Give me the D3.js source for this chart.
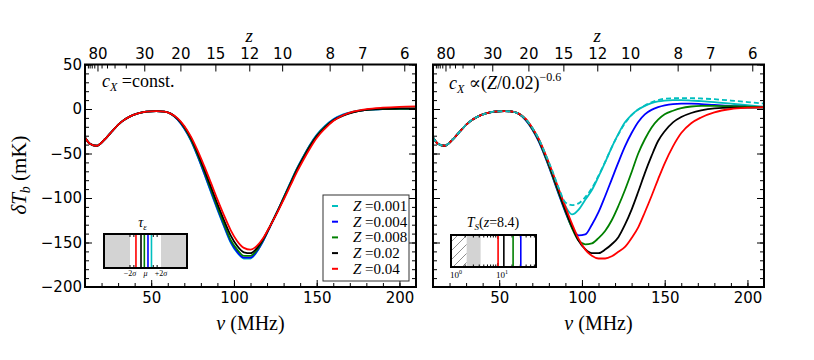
<!DOCTYPE html>
<html>
<head>
<meta charset="utf-8">
<script src="https://cdn.jsdelivr.net/npm/d3@7"></script>
<style>
body { margin: 0; background: #fff; }
.tick text { font-family: "DejaVu Sans", sans-serif; font-size: 15px; fill: #000; }
.tick line { stroke: #000; stroke-width: 1; }
.serif { font-family: "Liberation Serif", "DejaVu Serif", serif; fill: #000; }
</style>
</head>
<body>
<div id="chart"></div>
<script>
// frequency grid (MHz) and brightness temperature values (mK)
var nu = [10, 13, 17, 22, 27, 32, 37, 42, 47, 53, 58, 62,
	66, 70, 74, 78, 82, 86, 90, 94, 98, 102, 106, 110, 114, 118, 122, 126, 130,
	134, 138, 142, 146, 150, 155, 160, 166, 172, 180, 190, 200, 210];

// part shared by every curve (nu <= 62)
var common = [-32, -39, -41.3, -34, -23.6, -14.5, -8.6, -5, -3, -2.3, -3, -5.5];

// left panel, c_X = const.
var leftZ001 = common.concat([-12, -22, -35.5, -53, -72.5, -93, -113, -132, -150, -161.5, -168, -168, -160, -147, -131.5, -116, -99.5, -83, -67, -53, -40, -29, -19, -11.5, -6, -3, -0.8, 0, 0.2, 0.2]);
var leftZ004 = common.concat([-12, -21.8, -35, -52.5, -72, -92, -112, -131, -149, -160.5, -167, -167, -159.5, -147, -131.5, -116, -100, -83.5, -67.5, -53.5, -40.5, -29.5, -19.5, -12, -6.5, -3.2, -0.9, 0, 0.2, 0.2]);
var leftZ008 = common.concat([-11.5, -21, -34, -51, -70, -90, -110, -129, -147, -158, -165, -165, -158, -146, -131, -116, -100, -84, -68, -54, -41, -30, -20, -12.5, -7, -3.5, -1, 0, 0.3, 0.3]);
var leftZ02 = common.concat([-11, -20, -32.5, -49, -67.5, -87, -106.5, -125, -142, -154, -161, -162, -156, -145, -131, -116.5, -101, -85, -69, -55, -42, -31, -21, -13, -7.5, -3.8, -1, 0.2, 0.6, 0.8]);
var leftZ04 = common.concat([-10.5, -19, -31, -46.5, -64, -82.5, -101.5, -119.5, -136, -148.5, -156, -158, -153.5, -144, -131, -117, -102, -86.5, -71, -57, -44, -32.5, -22, -13.5, -7, -3, -0.2, 1.5, 2.5, 3]);

// right panel, c_X ~ (Z/0.02)^-0.6
var rightZ001 = common.concat([-12, -22, -35.5, -53, -72, -92, -109, -118.5, -113, -102, -91, -76, -60, -43, -28, -15, -6.5, -0.5, 3.5, 6.5, 8.5, 9.5, 10, 10, 9.5, 8.8, 7.8, 6, 4.2, 2.5]);
var rightZ001Dash = common.concat([-11.5, -21, -34, -51, -69, -89, -105, -108, -106, -99, -89, -75, -59.5, -43, -28.5, -16, -7, -0.5, 4, 7.5, 10, 11.5, 12, 12.3, 12.2, 11.8, 11, 9.5, 7.8, 6]);
var rightZ004 = common.concat([-12.5, -23, -37, -55, -75, -96, -116, -133, -142, -141, -130, -116, -98, -79, -60, -42, -27, -14.5, -6, -1, 2, 4, 5.5, 6, 6, 5.5, 4.5, 3.5, 2.5, 2]);
var rightZ008 = common.concat([-12, -22.5, -36, -54, -74, -95, -115, -134, -148, -152, -151, -145, -137, -125, -109, -91, -71, -50, -34, -21, -12, -6, -2, 1, 2.8, 3.5, 3.6, 3.2, 2.6, 2]);
var rightZ02 = common.concat([-11.5, -21.5, -35, -52.5, -72, -93, -113.5, -132, -148, -157.5, -162, -162, -158, -152, -144, -130, -113, -93, -72, -53, -36, -25, -15, -9, -4.5, -1.5, 0.8, 1.6, 1.6, 1.5]);
var rightZ04 = common.concat([-11, -21, -34, -51, -70, -90, -110, -129, -146, -158, -165, -168, -168, -165.5, -160.5, -155, -145, -133, -116, -98, -79, -61, -42, -27, -16, -9.5, -3.8, 0, 1.5, 2.2]);

var metallicity = ["0.001", "0.004", "0.008", "0.02", "0.04"];
var colors = ["#00bfbf", "#0000ff", "#008000", "#000000", "#ff0000"];

// inset values: tau_eps in units of sigma from mu, T_S(z=8.4) in K
var tauEps = [0.77, 0.32, -0.15, -0.58, -1.23];
var tauTicks = [-2, -1.5, 1, 1.5];
var tauLabels = [{v: -2, t: "−2"}, {v: 0, t: "μ"}, {v: 2, t: "+2"}];
var tSpin = [80, 30.8, 21.1, 13.4, 10.1];
var tsHatch = [1, 2.16];
var tsGray = [2.16, 4.28];

// axis ticks
var nuMajor = [50, 100, 150, 200];
var tbMajor = [-200, -150, -100, -50, 0, 50];
var zMajor = [80, 30, 20, 15, 12, 10, 8, 7, 6];
var zMinor = [120, 110, 100, 90, 70, 60, 50, 40];

var W = 814, H = 360;
var yTop = 64.5, yBot = 287;

var svg = d3.select("#chart").append("svg")
	.attr("width", W).attr("height", H)
	.style("background", "#fff");

var defs = svg.append("defs");
var hatch = defs.append("pattern")
	.attr("id", "hatch")
	.attr("patternUnits", "userSpaceOnUse")
	.attr("width", 9).attr("height", 9);
hatch.append("path")
	.attr("d", "M-2,2 l4,-4 M0,9 l9,-9 M7,11 l4,-4")
	.attr("stroke", "#444").attr("stroke-width", 0.6);

function nuToZ(n) { return 1420.4 / n - 1; }
function zToNu(z) { return 1420.4 / (1 + z); }

function drawPanel(p, idx) {
	var x = d3.scaleLinear().domain([10, 210]).range([p.x0, p.x1]);
	var y = d3.scaleLinear().domain([-200, 50]).range([yBot, yTop]);
	var g = svg.append("g");

	defs.append("clipPath").attr("id", "clip" + idx)
		.append("rect")
		.attr("x", p.x0).attr("y", yTop)
		.attr("width", p.x1 - p.x0).attr("height", yBot - yTop);

	var valueline = d3.line()
		.x(function(d, i) { return x(nu[i]); })
		.y(function(d) { return y(d); })
		.curve(d3.curveMonotoneX);

	var curves = g.append("g").attr("clip-path", "url(#clip" + idx + ")");
	p.series.forEach(function(s, i) {
		curves.append("path")
			.attr("d", valueline(s))
			.attr("fill", "none")
			.attr("stroke", colors[i])
			.attr("stroke-width", 1.8);
	});
	if (p.dashed) {
		curves.append("path")
			.attr("d", valueline(p.dashed))
			.attr("fill", "none")
			.attr("stroke", colors[0])
			.attr("stroke-width", 1.8)
			.attr("stroke-dasharray", "5,3");
	}

	// bottom axis
	var xAxis = d3.axisBottom(x).tickValues(nuMajor).tickSize(-7).tickPadding(5).tickFormat(d3.format("d"));
	var xMinor = d3.axisBottom(x).tickValues(d3.range(10, 211, 10)).tickSize(-4).tickFormat("");
	g.append("g").attr("class", "x axis").attr("transform", "translate(0," + yBot + ")").call(xAxis);
	g.append("g").attr("transform", "translate(0," + yBot + ")").call(xMinor);

	// top axis in redshift
	var zAxis = d3.axisTop(x).tickValues(zMajor.map(zToNu)).tickSize(-7).tickPadding(6)
		.tickFormat(function(d) { return Math.round(nuToZ(d)); });
	var zMinorAxis = d3.axisTop(x).tickValues(zMinor.map(zToNu).filter(function(d) { return d >= 10; }))
		.tickSize(-4).tickFormat("");
	g.append("g").attr("transform", "translate(0," + yTop + ")").call(zAxis);
	g.append("g").attr("transform", "translate(0," + yTop + ")").call(zMinorAxis);

	// y axes, both sides
	var yAxis = d3.axisLeft(y).tickValues(tbMajor).tickSize(-7).tickPadding(3).tickFormat(d3.format("d"));
	if (!p.yLabels) yAxis.tickFormat("");
	var yMinor = d3.axisLeft(y).tickValues(d3.range(-200, 51, 10)).tickSize(-4).tickFormat("");
	g.append("g").attr("class", "y axis").attr("transform", "translate(" + p.x0 + ",0)").call(yAxis);
	g.append("g").attr("transform", "translate(" + p.x0 + ",0)").call(yMinor);
	g.append("g").attr("transform", "translate(" + p.x1 + ",0)")
		.call(d3.axisRight(y).tickValues(tbMajor).tickSize(-7).tickFormat(""));
	g.append("g").attr("transform", "translate(" + p.x1 + ",0)")
		.call(d3.axisRight(y).tickValues(d3.range(-200, 51, 10)).tickSize(-4).tickFormat(""));

	g.selectAll(".domain").remove();

	// frame
	g.append("rect")
		.attr("x", p.x0).attr("y", yTop)
		.attr("width", p.x1 - p.x0).attr("height", yBot - yTop)
		.attr("fill", "none").attr("stroke", "#000").attr("stroke-width", 2);

	// axis titles
	var cx = (p.x0 + p.x1) / 2;
	var nuLabel = g.append("text").attr("class", "serif")
		.attr("x", cx).attr("y", 330).attr("text-anchor", "middle")
		.style("font-size", "20px");
	nuLabel.append("tspan").attr("font-style", "italic").text("ν");
	nuLabel.append("tspan").text(" (MHz)");

	g.append("text").attr("class", "serif")
		.attr("x", x(zToNu(12))).attr("y", 42).attr("text-anchor", "middle")
		.attr("font-style", "italic").style("font-size", "19px").text("z");

	return {x: x, y: y, g: g};
}

var left = drawPanel({x0: 85, x1: 416, yLabels: true,
	series: [leftZ001, leftZ004, leftZ008, leftZ02, leftZ04]}, 0);
var right = drawPanel({x0: 433, x1: 764, yLabels: false,
	series: [rightZ001, rightZ004, rightZ008, rightZ02, rightZ04], dashed: rightZ001Dash}, 1);

// y title
var yLab = svg.append("text").attr("class", "serif")
	.attr("transform", "translate(26,175) rotate(-90)")
	.attr("text-anchor", "middle").style("font-size", "21px");
yLab.append("tspan").attr("font-style", "italic").text("δT");
yLab.append("tspan").attr("font-style", "italic").attr("dy", 4).style("font-size", "14px").text("b");
yLab.append("tspan").attr("dy", -4).text(" (mK)");

// annotations
var noteL = svg.append("text").attr("class", "serif")
	.attr("x", 102).attr("y", 87).style("font-size", "18px");
noteL.append("tspan").attr("font-style", "italic").text("c");
noteL.append("tspan").attr("font-style", "italic").attr("dy", 4).style("font-size", "12px").text("X");
noteL.append("tspan").attr("dy", -4).text(" =const.");

var noteR = svg.append("text").attr("class", "serif")
	.attr("x", 449).attr("y", 89).style("font-size", "18px");
noteR.append("tspan").attr("font-style", "italic").text("c");
noteR.append("tspan").attr("font-style", "italic").attr("dy", 4).style("font-size", "12px").text("X");
noteR.append("tspan").attr("dy", -4).text(" ∝(");
noteR.append("tspan").attr("font-style", "italic").text("Z");
noteR.append("tspan").text("/0.02)");
noteR.append("tspan").attr("dy", -8).style("font-size", "12px").text("−0.6");

// legend
var leg = svg.append("g").attr("transform", "translate(323,195)");
leg.append("rect").attr("width", 86).attr("height", 86)
	.attr("fill", "#fff").attr("stroke", "#333").attr("stroke-width", 1);
metallicity.forEach(function(m, i) {
	var ry = 11 + i * 15.7;
	leg.append("line").attr("x1", 9).attr("x2", 15).attr("y1", ry).attr("y2", ry)
		.attr("stroke", colors[i]).attr("stroke-width", 2);
	var t = leg.append("text").attr("class", "serif")
		.attr("x", 30).attr("y", ry + 5).style("font-size", "15px");
	t.append("tspan").attr("font-style", "italic").text("Z");
	t.append("tspan").text(" =" + m);
});

// inset: tau_eps
var insL = svg.append("g");
var tx = d3.scaleLinear().domain([-5.35, 5.35]).range([104, 187]);
var iy0 = 234, iy1 = 268;
defs.append("clipPath").attr("id", "clipInsL").append("rect")
	.attr("x", 104).attr("y", iy0).attr("width", 83).attr("height", iy1 - iy0);
var insLc = insL.append("g").attr("clip-path", "url(#clipInsL)");
insLc.append("rect").attr("x", tx(-5.35)).attr("y", iy0).attr("width", tx(-2) - tx(-5.35)).attr("height", iy1 - iy0).attr("fill", "#d3d3d3");
insLc.append("rect").attr("x", tx(2)).attr("y", iy0).attr("width", tx(5.35) - tx(2)).attr("height", iy1 - iy0).attr("fill", "#d3d3d3");
tauTicks.forEach(function(v) {
	insLc.append("line").attr("x1", tx(v)).attr("x2", tx(v)).attr("y1", iy0).attr("y2", iy0 + 3).attr("stroke", "#000");
	insLc.append("line").attr("x1", tx(v)).attr("x2", tx(v)).attr("y1", iy1).attr("y2", iy1 - 3).attr("stroke", "#000");
});
tauEps.forEach(function(v, i) {
	insLc.append("line").attr("x1", tx(v)).attr("x2", tx(v)).attr("y1", iy0).attr("y2", iy1)
		.attr("stroke", colors[i]).attr("stroke-width", 1.6);
});
insL.append("rect").attr("x", 104).attr("y", iy0).attr("width", 83).attr("height", iy1 - iy0)
	.attr("fill", "none").attr("stroke", "#000").attr("stroke-width", 2);
var tl = insL.append("text").attr("class", "serif").attr("x", tx(0) - 3).attr("y", 227)
	.attr("text-anchor", "middle").style("font-size", "14px");
tl.append("tspan").attr("font-style", "italic").text("τ");
tl.append("tspan").attr("font-style", "italic").attr("dy", 3).style("font-size", "9px").text("ε");
tauLabels.forEach(function(l) {
	var t = insL.append("text").attr("class", "serif").attr("x", tx(l.v)).attr("y", 276)
		.attr("text-anchor", "middle").style("font-size", "8px");
	if (l.t === "μ") {
		t.attr("font-style", "italic").text("μ");
	} else {
		t.text(l.t);
		t.append("tspan").attr("font-style", "italic").text("σ");
	}
});

// inset: T_S(z=8.4)
var insR = svg.append("g");
var sx = d3.scaleLog().domain([1, 65]).range([451, 536]);
var sy0 = 235, sy1 = 267;
defs.append("clipPath").attr("id", "clipInsR").append("rect")
	.attr("x", 451).attr("y", sy0).attr("width", 85).attr("height", sy1 - sy0);
var insRc = insR.append("g").attr("clip-path", "url(#clipInsR)");
insRc.append("rect").attr("x", sx(tsHatch[0])).attr("y", sy0).attr("width", sx(tsHatch[1]) - sx(tsHatch[0]))
	.attr("height", sy1 - sy0).attr("fill", "url(#hatch)");
insRc.append("rect").attr("x", sx(tsGray[0])).attr("y", sy0).attr("width", sx(tsGray[1]) - sx(tsGray[0]))
	.attr("height", sy1 - sy0).attr("fill", "#d3d3d3");
var logTicks = [1, 2, 3, 4, 5, 6, 7, 8, 9, 10, 20, 30, 40, 50, 60];
logTicks.forEach(function(v) {
	var len = (v === 1 || v === 10) ? 4 : 2.5;
	insRc.append("line").attr("x1", sx(v)).attr("x2", sx(v)).attr("y1", sy0).attr("y2", sy0 + len).attr("stroke", "#000");
	insRc.append("line").attr("x1", sx(v)).attr("x2", sx(v)).attr("y1", sy1).attr("y2", sy1 - len).attr("stroke", "#000");
});
tSpin.forEach(function(v, i) {
	insRc.append("line").attr("x1", sx(v)).attr("x2", sx(v)).attr("y1", sy0).attr("y2", sy1)
		.attr("stroke", colors[i]).attr("stroke-width", 1.6);
});
insR.append("rect").attr("x", 451).attr("y", sy0).attr("width", 85).attr("height", sy1 - sy0)
	.attr("fill", "none").attr("stroke", "#000").attr("stroke-width", 2);
var ttl = insR.append("text").attr("class", "serif").attr("x", 493).attr("y", 227)
	.attr("text-anchor", "middle").style("font-size", "14px");
ttl.append("tspan").attr("font-style", "italic").text("T");
ttl.append("tspan").attr("font-style", "italic").attr("dy", 3).style("font-size", "9px").text("S");
ttl.append("tspan").attr("dy", -3).text("(");
ttl.append("tspan").attr("font-style", "italic").text("z");
ttl.append("tspan").text("=8.4)");
[1, 10].forEach(function(v, i) {
	var t = insR.append("text").attr("class", "serif").attr("x", sx(v) + (i === 0 ? 5 : 4)).attr("y", 278)
		.attr("text-anchor", "middle").style("font-size", "9px");
	t.append("tspan").text("10");
	t.append("tspan").attr("dy", -4).style("font-size", "6px").text(i);
});
</script>
</body>
</html>
